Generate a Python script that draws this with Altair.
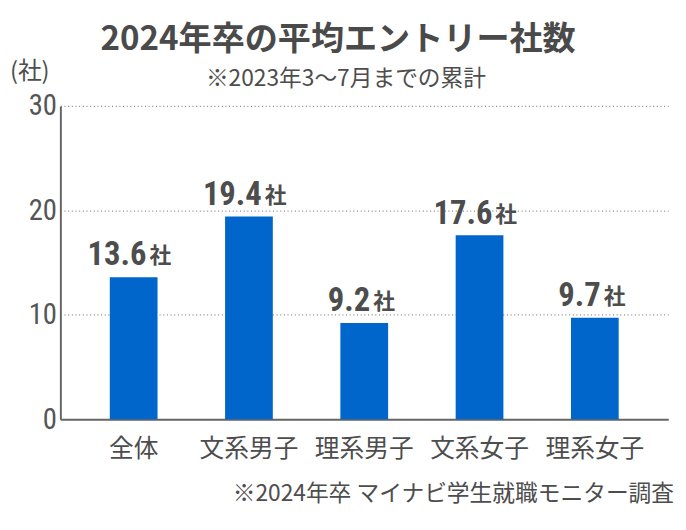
import altair as alt
import pandas as pd

# ---- data ----
categories = ["全体", "文系男子", "理系男子", "文系女子", "理系女子"]
values = [13.6, 19.4, 9.2, 17.6, 9.7]
y_ticks = [0, 10, 20, 30]
unit = "社"
title_text = "2024年卒の平均エントリー社数"
subtitle_text = "※2023年3～7月までの累計"
source_text = "※2024年卒 マイナビ学生就職モニター調査"
unit_label = "(社)"

df = pd.DataFrame({"category": categories, "value": values, "unit": [unit] * len(categories)})

JP = "Noto Sans CJK JP"
NARROW = "'Liberation Sans Narrow', 'Roboto Condensed', 'DejaVu Sans Condensed', Roboto, sans-serif"
TEXT = "#4d4d4d"
BLUE = "#0066CC"

x_scale = alt.Scale(paddingInner=0.586, paddingOuter=0.4287, round=False)
x_enc = alt.X(
    "category:N",
    sort=categories,
    scale=x_scale,
    axis=alt.Axis(
        title=None, labelAngle=0, labelFont=JP, labelFontSize=25, labelColor=TEXT,
        labelPadding=18, ticks=False, domainColor="#666666", domainWidth=2, grid=False,
    ),
)
y_enc = alt.Y(
    "value:Q",
    scale=alt.Scale(domain=[0, 30]),
    axis=alt.Axis(
        title=None, values=y_ticks, labelFont=NARROW, labelFontSize=29, labelColor="#555555",
        labelPadding=4, ticks=False, domainColor="#666666", domainWidth=2,
        gridColor="#888888", gridDash=[1, 2.7], gridWidth=1.2,
    ),
)

bars = alt.Chart(df).mark_bar(color=BLUE).encode(x=x_enc, y=y_enc)

base = alt.Chart(df).transform_calculate(num="format(datum.value, '.1f')")
nums = base.mark_text(
    font=NARROW, fontWeight="bold", fontSize=33, color=TEXT, align="right",
    baseline="alphabetic", dy=-12,
    dx={"expr": "length(datum.num) > 3 ? 13 : 6"},
).encode(x=alt.X("category:N", sort=categories), y="value:Q", text="num:N")
units = base.mark_text(
    font=JP, fontWeight="bold", fontSize=22, color=TEXT, align="left",
    baseline="alphabetic", dy=-14,
    dx={"expr": "length(datum.num) > 3 ? 16 : 9"},
).encode(x=alt.X("category:N", sort=categories), y="value:Q", text="unit:N")


def label(txt, x, y, size, weight="normal", align="center", color=TEXT):
    return alt.Chart(pd.DataFrame({"t": [txt]})).mark_text(
        font=JP, fontSize=size, fontWeight=weight, align=align, baseline="middle", color=color
    ).encode(text="t:N", x=alt.value(x), y=alt.value(y))


title = label(title_text, 281, -67, 33.5, weight="bold", color="#4a4a4a")
subtitle = label(subtitle_text, 289, -27, 23)
unit_lbl = label(unit_label, -31, -34, 24)
footer = label(source_text, 621, 393, 23, align="right")

chart = alt.layer(bars, nums, units, title, subtitle, unit_lbl, footer).properties(
    width=615,
    height=317,
    autosize=alt.AutoSizeParams(type="none"),
    padding={"left": 53, "top": 96, "right": 10, "bottom": 99},
).configure_view(stroke=None)

chart.save("out.html", embed_options={"renderer": "svg", "actions": False})
